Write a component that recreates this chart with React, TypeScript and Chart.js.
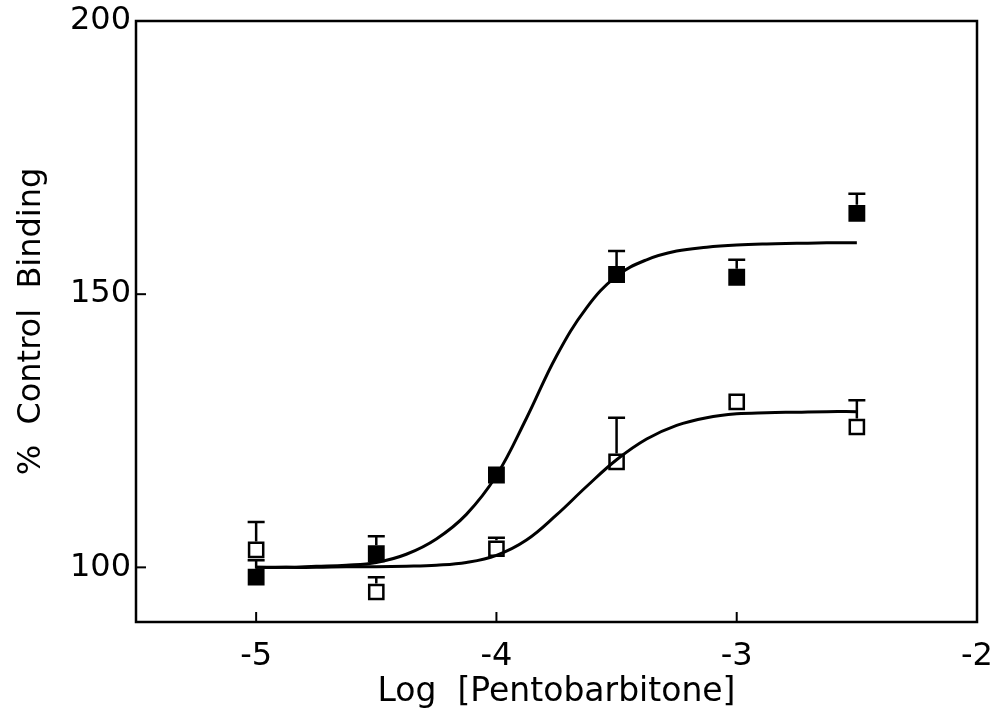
import React, { useEffect, useRef } from "react";
import { Chart, registerables } from "chart.js";

Chart.register(...registerables);

// Measured points (log molar concentration)
const doseLog = [-5, -4.5, -4, -3.5, -3, -2.5];
const filledMean = [98.2, 102.5, 116.9, 153.6, 153.1, 164.8];
const filledUpper = [101.3, 105.7, 116.9, 157.9, 156.3, 168.4];
const openMean = [103.2, 95.5, 103.4, 119.3, 130.3, 125.7];
const openUpper = [108.3, 98.2, 105.4, 127.4, 130.3, 130.6];

// Fitted curves
const curveX = [-5, -4.875, -4.75, -4.625, -4.5, -4.375, -4.25, -4.125, -4, -3.875, -3.75, -3.625, -3.5, -3.375, -3.25, -3.125, -3, -2.875, -2.75, -2.625, -2.5];
const filledFit = [100.0, 100.0, 100.2, 100.4, 100.9, 102.4, 105.2, 109.7, 116.8, 127.3, 138.7, 147.5, 153.3, 156.3, 157.9, 158.6, 159.0, 159.2, 159.3, 159.4, 159.4];
const openFit = [100.0, 100.0, 100.0, 100.1, 100.1, 100.2, 100.4, 100.9, 102.2, 105.0, 109.6, 114.8, 119.7, 123.5, 126.0, 127.4, 128.1, 128.3, 128.4, 128.5, 128.5];

const xTicks = [-5, -4, -3, -2];
const yTicks = [100, 150, 200];
const xInnerTicks = [-5, -4, -3];
const yInnerTicks = [100, 150];

const FONT = "'DejaVu Sans', sans-serif";

export default function App() {
  const ref = useRef<HTMLCanvasElement>(null);

  useEffect(() => {
    const canvas = ref.current;
    if (!canvas) return;

    const framePlugin = {
      id: "framePlugin",
      beforeDatasetsDraw(chart: any) {
        const { ctx, chartArea } = chart;
        const xs = chart.scales.x;
        const ys = chart.scales.y;
        ctx.save();
        ctx.strokeStyle = "#000";
        ctx.lineWidth = 2.5;
        ctx.strokeRect(chartArea.left, chartArea.top, chartArea.right - chartArea.left, chartArea.bottom - chartArea.top);
        ctx.lineWidth = 2;
        const tl = 10;
        xInnerTicks.forEach((v) => {
          const px = xs.getPixelForValue(v);
          ctx.beginPath();
          ctx.moveTo(px, chartArea.bottom);
          ctx.lineTo(px, chartArea.bottom - tl);
          ctx.stroke();
        });
        yInnerTicks.forEach((v) => {
          const py = ys.getPixelForValue(v);
          ctx.beginPath();
          ctx.moveTo(chartArea.left, py);
          ctx.lineTo(chartArea.left + tl, py);
          ctx.stroke();
        });
        // error bars (upper only)
        const half = 8.5;
        const cap = 8.5;
        ctx.lineWidth = 2.5;
        const drawErr = (means: number[], uppers: number[]) => {
          doseLog.forEach((x, i) => {
            if (uppers[i] <= means[i]) return;
            const px = xs.getPixelForValue(x);
            const pm = ys.getPixelForValue(means[i]) - half;
            const pu = ys.getPixelForValue(uppers[i]);
            if (pu >= pm) return;
            ctx.beginPath();
            ctx.moveTo(px, pm);
            ctx.lineTo(px, pu);
            ctx.moveTo(px - cap, pu);
            ctx.lineTo(px + cap, pu);
            ctx.stroke();
          });
        };
        drawErr(filledMean, filledUpper);
        drawErr(openMean, openUpper);
        ctx.restore();
      },
    };

    const chart = new Chart(canvas, {
      type: "scatter",
      data: {
        datasets: [
          {
            label: "fit filled",
            data: curveX.map((x, i) => ({ x, y: filledFit[i] })),
            showLine: true,
            borderColor: "#000",
            borderWidth: 3,
            pointRadius: 0,
            tension: 0.4,
            fill: false,
          },
          {
            label: "fit open",
            data: curveX.map((x, i) => ({ x, y: openFit[i] })),
            showLine: true,
            borderColor: "#000",
            borderWidth: 3,
            pointRadius: 0,
            tension: 0.4,
            fill: false,
          },
          {
            label: "filled",
            data: doseLog.map((x, i) => ({ x, y: filledMean[i] })),
            showLine: false,
            pointStyle: "rect",
            pointRadius: 10.5,
            backgroundColor: "#000",
            borderColor: "#000",
            borderWidth: 2,
          },
          {
            label: "open",
            data: doseLog.map((x, i) => ({ x, y: openMean[i] })),
            showLine: false,
            pointStyle: "rect",
            pointRadius: 10,
            backgroundColor: "rgba(0,0,0,0)",
            borderColor: "#000",
            borderWidth: 2.5,
          },
        ],
      },
      options: {
        animation: false,
        responsive: false,
        layout: { padding: { top: 21, right: 24, left: 0, bottom: 0 } },
        plugins: {
          legend: { display: false },
          tooltip: { enabled: false },
        },
        scales: {
          x: {
            type: "linear",
            min: -5.5,
            max: -2,
            grid: { display: false, drawTicks: false },
            border: { display: false },
            afterBuildTicks: (scale: any) => {
              scale.ticks = xTicks.map((v) => ({ value: v }));
            },
            afterFit: (scale: any) => {
              scale.height = 102;
              scale.paddingLeft = 0;
              scale.paddingRight = 0;
            },
            ticks: {
              color: "#000",
              font: { family: FONT, size: 32 },
              padding: 15,
              maxRotation: 0,
              callback: (v: any) => String(v),
            },
            title: {
              display: true,
              text: "Log  [Pentobarbitone]",
              color: "#000",
              font: { family: FONT, size: 33 },
              padding: { bottom: 12, top: 0 },
            },
          },
          y: {
            type: "linear",
            min: 90,
            max: 200,
            grid: { display: false, drawTicks: false },
            border: { display: false },
            afterBuildTicks: (scale: any) => {
              scale.ticks = yTicks.map((v) => ({ value: v }));
            },
            afterFit: (scale: any) => {
              scale.width = 136;
              scale.paddingTop = 0;
              scale.paddingBottom = 0;
            },
            ticks: {
              color: "#000",
              font: { family: FONT, size: 32 },
              padding: 5,
            },
            title: {
              display: true,
              text: "%  Control  Binding",
              color: "#000",
              font: { family: FONT, size: 32 },
              padding: { top: 12, bottom: 0 },
            },
          },
        },
      },
      plugins: [framePlugin],
    } as any);

    return () => chart.destroy();
  }, []);

  return (
    <div style={{ position: "fixed", left: 0, top: 0, width: 1001, height: 724, background: "#fff" }}>
      <canvas ref={ref} width={1001} height={724} />
    </div>
  );
}
